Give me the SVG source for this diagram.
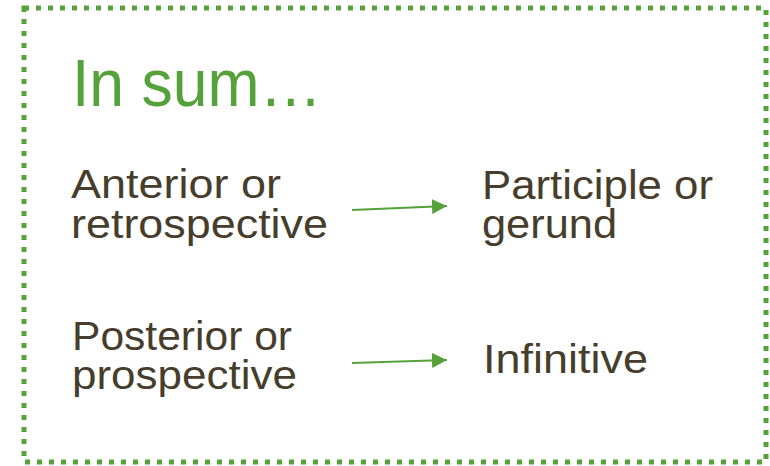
<svg xmlns="http://www.w3.org/2000/svg" width="770" height="466" viewBox="0 0 770 466">
  <defs>
    <style>
      .frame { fill: none; stroke: #55a13a; stroke-width: 5; stroke-dasharray: 5 7; }
      .title { font-family: "Liberation Sans", Arial, sans-serif; font-size: 66px; fill: #55a13a; }
      .body { font-family: "Liberation Sans", Arial, sans-serif; font-size: 41px; fill: #463d2c; }
      .link { stroke: #55a13a; stroke-width: 2; fill: none; }
    </style>
    <marker id="head" viewBox="0 0 15 15" refX="15" refY="7.5" markerWidth="15" markerHeight="15" markerUnits="userSpaceOnUse" orient="auto">
      <path d="M0,0 L15,7.5 L0,15 Z" fill="#55a13a"/>
    </marker>
  </defs>

  <!-- dotted outer frame -->
  <rect class="frame" x="24" y="8" width="742" height="454"/>

  <g id="title">
    <text class="title" x="72" y="106" textLength="250" lengthAdjust="spacingAndGlyphs">In sum…</text>
  </g>

  <g id="anterior">
    <text class="body" x="71" y="198" textLength="210" lengthAdjust="spacingAndGlyphs">Anterior or</text>
    <text class="body" x="71" y="238" textLength="257" lengthAdjust="spacingAndGlyphs">retrospective</text>
  </g>

  <g id="participle">
    <text class="body" x="482" y="199" textLength="231" lengthAdjust="spacingAndGlyphs">Participle or</text>
    <text class="body" x="482" y="238" textLength="135" lengthAdjust="spacingAndGlyphs">gerund</text>
  </g>

  <g id="posterior">
    <text class="body" x="72" y="350" textLength="220" lengthAdjust="spacingAndGlyphs">Posterior or</text>
    <text class="body" x="72" y="389" textLength="225" lengthAdjust="spacingAndGlyphs">prospective</text>
  </g>

  <g id="infinitive">
    <text class="body" x="483" y="373" textLength="165" lengthAdjust="spacingAndGlyphs">Infinitive</text>
  </g>

  <g id="connectors">
    <line class="link" x1="352" y1="210" x2="447" y2="206" marker-end="url(#head)"/>
    <line class="link" x1="352" y1="363" x2="447" y2="360" marker-end="url(#head)"/>
  </g>
</svg>
